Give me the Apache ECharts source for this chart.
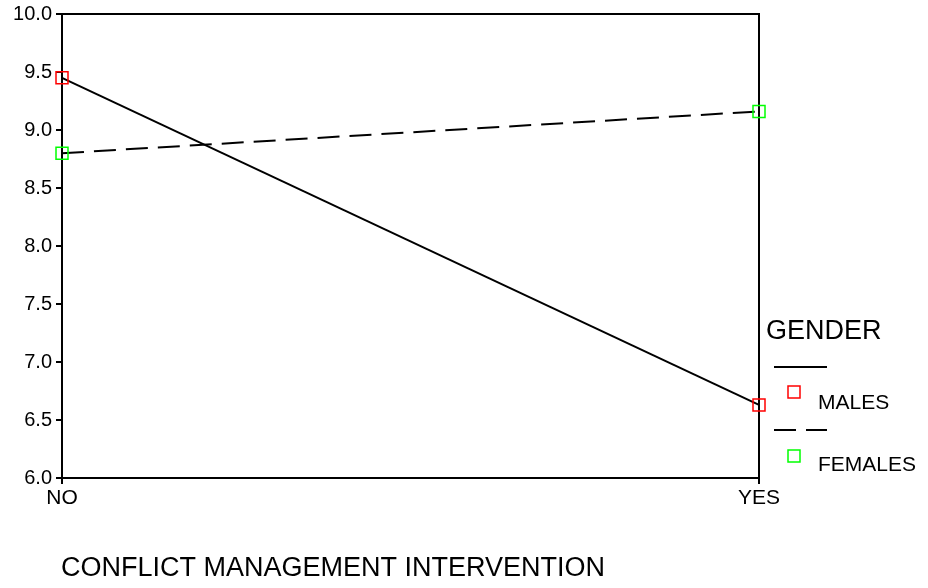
<!DOCTYPE html>
<html><head><meta charset="utf-8">
<script src="https://cdn.jsdelivr.net/npm/echarts@6/dist/echarts.min.js"></script>
<style>html,body{margin:0;padding:0;background:#fff}#c{width:928px;height:588px}</style>
</head><body><div id="c"></div>
<script>
const categories = ['NO', 'YES'];
const males = [9.45, 6.63];
const females = [8.80, 9.16];
const yTicks = [6, 10, 0.5];
const xTitle = 'CONFLICT MANAGEMENT INTERVENTION';
const legendTitle = 'GENDER';
const seriesNames = ['MALES', 'FEMALES'];

const F = '"Liberation Sans", Arial, sans-serif';
const chart = echarts.init(document.getElementById('c'), null, {renderer: 'canvas'});
chart.setOption({
  animation: false,
  backgroundColor: '#fff',
  grid: {left: 62, right: 169, top: 14, bottom: 110, show: true, borderColor: '#000', borderWidth: 2, backgroundColor: 'transparent'},
  xAxis: {
    type: 'category', data: categories, boundaryGap: false,
    axisLine: {lineStyle: {color: '#000', width: 2}},
    axisTick: {show: true, length: 6, inside: false, alignWithLabel: true, lineStyle: {color: '#000', width: 2}},
    axisLabel: {color: '#000', fontFamily: F, fontSize: 21, margin: 10},
    splitLine: {show: false}
  },
  yAxis: {
    type: 'value', min: yTicks[0], max: yTicks[1], interval: yTicks[2],
    axisLine: {show: true, lineStyle: {color: '#000', width: 2}},
    axisTick: {show: true, length: 6, lineStyle: {color: '#000', width: 2}},
    axisLabel: {color: '#000', fontFamily: F, fontSize: 20, margin: 10, formatter: v => v.toFixed(1)},
    splitLine: {show: false}
  },
  series: [
    {name: seriesNames[0], type: 'line', data: males, symbol: 'rect', symbolSize: 12,
     lineStyle: {color: '#000', width: 2, type: 'solid'},
     itemStyle: {color: 'rgba(0,0,0,0)', borderColor: '#ff0000', borderWidth: 1.5}, z: 3},
    {name: seriesNames[1], type: 'line', data: females, symbol: 'rect', symbolSize: 12,
     lineStyle: {color: '#000', width: 2, type: [22, 10]},
     itemStyle: {color: 'rgba(0,0,0,0)', borderColor: '#00ff00', borderWidth: 1.5}, z: 3}
  ],
  graphic: [
    {type: 'text', left: 61, top: 555, style: {text: xTitle, font: '27px ' + F, fill: '#000'}},
    {type: 'text', left: 766, top: 318, style: {text: legendTitle, font: '27px ' + F, fill: '#000'}},
    {type: 'line', shape: {x1: 774, y1: 367, x2: 827, y2: 367}, style: {stroke: '#000', lineWidth: 2}},
    {type: 'rect', shape: {x: 788, y: 386, width: 12, height: 12}, style: {fill: 'none', stroke: '#ff0000', lineWidth: 1.5}},
    {type: 'text', left: 818, top: 393, style: {text: seriesNames[0], font: '21px ' + F, fill: '#000'}},
    {type: 'line', shape: {x1: 774, y1: 430, x2: 796, y2: 430}, style: {stroke: '#000', lineWidth: 2}},
    {type: 'line', shape: {x1: 806, y1: 430, x2: 827, y2: 430}, style: {stroke: '#000', lineWidth: 2}},
    {type: 'rect', shape: {x: 788, y: 450, width: 12, height: 12}, style: {fill: 'none', stroke: '#00ff00', lineWidth: 1.5}},
    {type: 'text', left: 818, top: 455, style: {text: seriesNames[1], font: '21px ' + F, fill: '#000'}}
  ]
});
</script></body></html>
